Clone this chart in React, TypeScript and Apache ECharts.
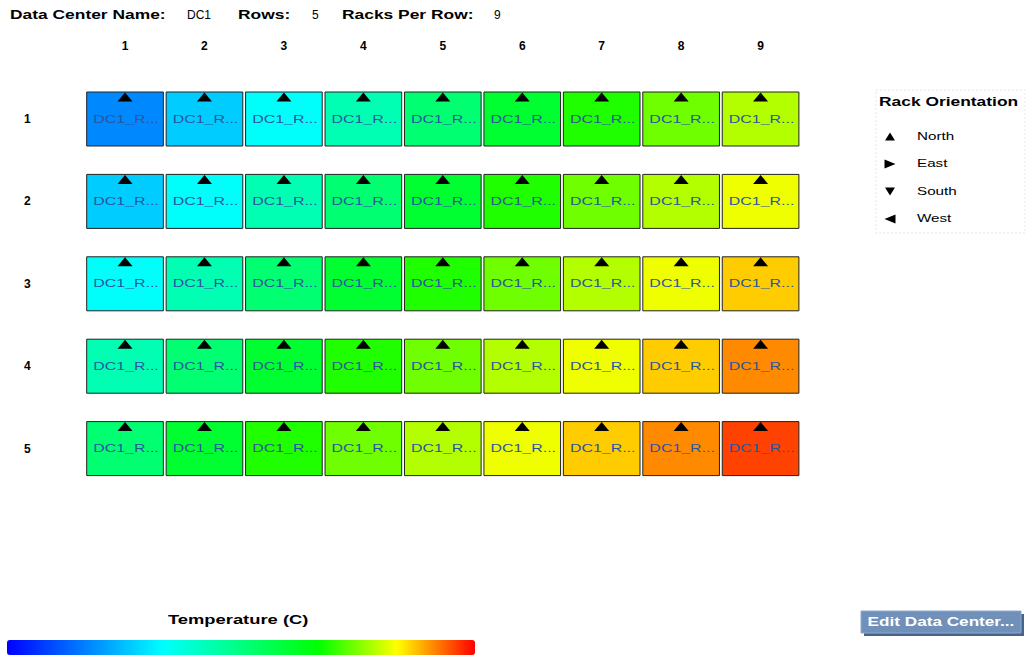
import { useEffect, useRef } from 'react';
import * as echarts from 'echarts';

// ---- data ----
const columnLabels = ['1', '2', '3', '4', '5', '6', '7', '8', '9'];
const rowLabels = ['1', '2', '3', '4', '5'];
// rack temperatures (C), one array per row, columns 1..9
const row1Temps = [15.3, 18.0, 20.2, 23.0, 25.6, 28.1, 30.6, 32.2, 33.5];
const row2Temps = [18.0, 20.2, 23.0, 25.6, 28.1, 30.6, 32.2, 33.5, 34.7];
const row3Temps = [20.2, 23.0, 25.6, 28.1, 30.6, 32.2, 33.5, 34.7, 36.0];
const row4Temps = [23.0, 25.6, 28.1, 30.6, 32.2, 33.5, 34.7, 36.0, 37.3];
const row5Temps = [25.6, 28.1, 30.6, 32.2, 33.5, 34.7, 36.0, 37.3, 38.7];
const rowTemps = [row1Temps, row2Temps, row3Temps, row4Temps, row5Temps];
// rack orientation per row (0 North, 1 East, 2 South, 3 West)
const row1Orient = [0, 0, 0, 0, 0, 0, 0, 0, 0];
const row2Orient = [0, 0, 0, 0, 0, 0, 0, 0, 0];
const row3Orient = [0, 0, 0, 0, 0, 0, 0, 0, 0];
const row4Orient = [0, 0, 0, 0, 0, 0, 0, 0, 0];
const row5Orient = [0, 0, 0, 0, 0, 0, 0, 0, 0];
const rowOrient = [row1Orient, row2Orient, row3Orient, row4Orient, row5Orient];
const rackLabel = 'DC1_R...';
const orientationNames = ['North', 'East', 'South', 'West'];
const tempMin = 10;
const tempMax = 40;
const tempColors = ['#0000FF', '#0080FF', '#00FFFF', '#00FF80', '#00FF00', '#FFFF00', '#FF0000'];
const dataCenterName = 'DC1';
const rowCount = '5';
const racksPerRow = '9';

const FONT = '"Liberation Sans", Arial, sans-serif';

function triangle(cx: number, cy: number, dir: number, w: number, h: number) {
  if (dir === 0) return [[cx, cy - h / 2], [cx + w / 2, cy + h / 2], [cx - w / 2, cy + h / 2]];
  if (dir === 1) return [[cx + w / 2, cy], [cx - w / 2, cy - h / 2], [cx - w / 2, cy + h / 2]];
  if (dir === 2) return [[cx, cy + h / 2], [cx + w / 2, cy - h / 2], [cx - w / 2, cy - h / 2]];
  return [[cx - w / 2, cy], [cx + w / 2, cy - h / 2], [cx + w / 2, cy + h / 2]];
}

function sText(x: number, y: number, text: string, font: string, scaleX: number, fill = '#000', align = 'left') {
  return {
    type: 'text',
    x,
    y,
    scaleX,
    style: { text, x: 0, y: 0, font, fill, align, verticalAlign: 'middle' },
  };
}

export default function App() {
  const ref = useRef<HTMLDivElement>(null);
  useEffect(() => {
    if (!ref.current) return;
    const chart = echarts.init(ref.current, null, { renderer: 'svg' });
    const data: any[] = [];
    rowTemps.forEach((row, r) => {
      row.forEach((t, c) => {
        data.push([c, r, t, rowOrient[r][c]]);
      });
    });

    const bold12 = `bold 12px ${FONT}`;
    const reg12 = `12px ${FONT}`;
    const reg10 = `10px ${FONT}`;

    const legendItems: any[] = [];
    const legendYs = [136.5, 164, 191.5, 219];
    orientationNames.forEach((name, i) => {
      const isNS = i === 0 || i === 2;
      legendItems.push({
        type: 'polygon',
        shape: { points: triangle(890, legendYs[i], i, isNS ? 10 : 11, isNS ? 8 : 9) },
        style: { fill: '#000' },
      });
      legendItems.push(sText(917, legendYs[i], name, reg10, 1.52));
    });

    const option: any = {
      animation: false,
      backgroundColor: '#fff',
      grid: { left: 85.3, top: 77.8, width: 715, height: 412 },
      xAxis: {
        type: 'category',
        data: columnLabels,
        position: 'top',
        axisLine: { show: false },
        axisTick: { show: false },
        splitLine: { show: false },
        axisLabel: { fontFamily: FONT, fontWeight: 'bold', fontSize: 12, color: '#000', margin: 26 },
      },
      yAxis: {
        type: 'category',
        data: rowLabels,
        inverse: true,
        axisLine: { show: false },
        axisTick: { show: false },
        splitLine: { show: false },
        axisLabel: { fontFamily: FONT, fontWeight: 'bold', fontSize: 12, color: '#000', margin: 58, align: 'center' },
      },
      visualMap: {
        type: 'continuous',
        min: tempMin,
        max: tempMax,
        dimension: 2,
        seriesIndex: 0,
        orient: 'horizontal',
        left: 7,
        top: 640,
        itemWidth: 15,
        itemHeight: 468,
        padding: 0,
        calculable: false,
        inRange: { color: tempColors },
      },
      series: [
        {
          type: 'custom',
          encode: { x: 0, y: 1 },
          data,
          renderItem: (params: any, api: any) => {
            const c = api.coord([api.value(0), api.value(1)]);
            const bw = api.size([1, 0])[0];
            const w = bw - 2.8;
            const h = 54;
            const top = c[1] - h / 2;
            const dir = api.value(3);
            let tri;
            if (dir === 0) tri = triangle(c[0], top + 5, 0, 15, 9);
            else if (dir === 2) tri = triangle(c[0], top + h - 5, 2, 15, 9);
            else if (dir === 1) tri = triangle(c[0] + w / 2 - 5, c[1], 1, 9, 15);
            else tri = triangle(c[0] - w / 2 + 5, c[1], 3, 9, 15);
            return {
              type: 'group',
              children: [
                {
                  type: 'rect',
                  shape: { x: c[0] - w / 2, y: top, width: w, height: h },
                  style: { fill: api.visual('color'), stroke: '#222', lineWidth: 1 },
                },
                { type: 'polygon', shape: { points: tri }, style: { fill: '#000' } },
                {
                  type: 'text',
                  x: c[0] + 1,
                  y: c[1],
                  scaleX: 1.45,
                  style: {
                    text: rackLabel,
                    x: 0,
                    y: 0,
                    align: 'center',
                    verticalAlign: 'middle',
                    font: `11px ${FONT}`,
                    fill: '#2A55A0',
                  },
                },
              ],
            };
          },
        },
      ],
      graphic: [
        sText(10, 15, 'Data Center Name:', bold12, 1.45),
        sText(187, 15, dataCenterName, reg12, 1.0),
        sText(238, 15, 'Rows:', bold12, 1.45),
        sText(312, 15, rowCount, reg12, 1.0),
        sText(342, 15, 'Racks Per Row:', bold12, 1.45),
        sText(494, 15, racksPerRow, reg12, 1.0),
        {
          type: 'rect',
          shape: { x: 876, y: 90, width: 149, height: 143 },
          style: { fill: '#fff', stroke: '#e6e6e6', lineWidth: 1, lineDash: [2, 2] },
        },
        sText(879, 102, 'Rack Orientation', bold12, 1.45),
        ...legendItems,
        sText(168, 620, 'Temperature (C)', bold12, 1.53),
        {
          type: 'rect',
          shape: { x: 864, y: 614, width: 160, height: 22 },
          style: { fill: '#46648E' },
        },
        {
          type: 'rect',
          shape: { x: 861, y: 611, width: 160, height: 22 },
          style: { fill: '#7190B9', stroke: '#8EA8CA', lineWidth: 1 },
        },
        sText(941, 622, 'Edit Data Center...', bold12, 1.43, '#fff', 'center'),
      ],
    };
    chart.setOption(option);
    return () => chart.dispose();
  }, []);
  return (
    <div
      ref={ref}
      style={{ position: 'fixed', left: 0, top: 0, width: 1034, height: 667, background: '#fff' }}
    />
  );
}
